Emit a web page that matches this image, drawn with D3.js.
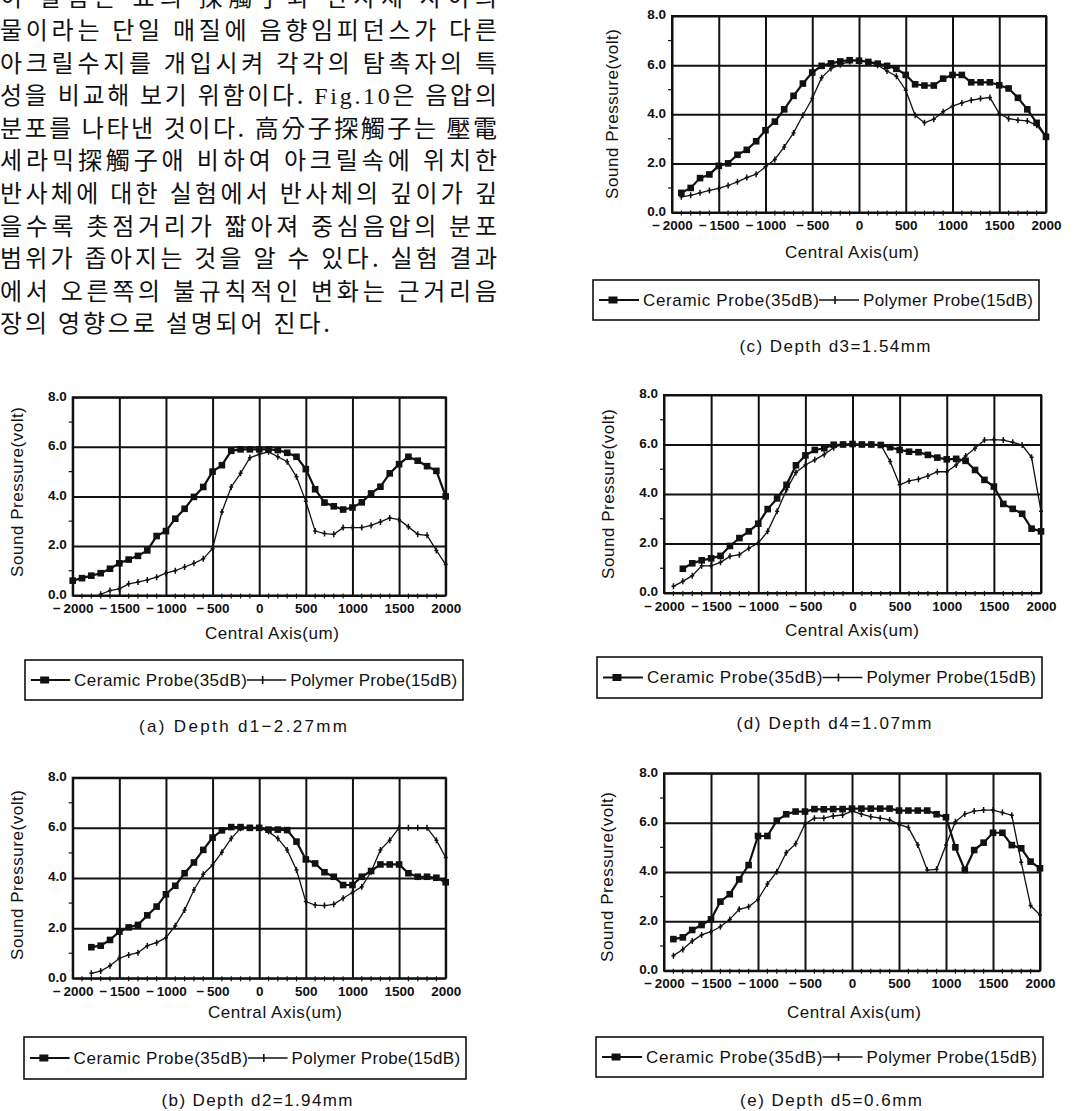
<!DOCTYPE html>
<html>
<head>
<meta charset="utf-8">
<script src="https://cdn.jsdelivr.net/npm/d3@7"></script>
<style>
    body { margin: 0; background: #fff; }
    svg { display: block; }
</style>
</head>
<body>
<div id="page"></div>
<script>
// measuring positions along the central axis (um)
var axisPoints = [-2000, -1900, -1800, -1700, -1600, -1500, -1400, -1300, -1200, -1100,
    -1000, -900, -800, -700, -600, -500, -400, -300, -200, -100,
    0, 100, 200, 300, 400, 500, 600, 700, 800, 900,
    1000, 1100, 1200, 1300, 1400, 1500, 1600, 1700, 1800, 1900, 2000];

var majorX = [-2000, -1500, -1000, -500, 0, 500, 1000, 1500, 2000];
var majorY = [0, 2, 4, 6, 8];
var minorY = [1, 3, 5, 7];

// (a) depth d1 = 2.27mm
var ceramicA = [0.6, 0.7, 0.8, 0.9, 1.08, 1.3, 1.45, 1.6, 1.82, 2.4, 2.6, 3.1, 3.5, 3.98, 4.38, 5.0, 5.26, 5.84, 5.9, 5.9,
    5.9, 5.9, 5.87, 5.76, 5.6, 5.1, 4.29, 3.75, 3.6, 3.47, 3.55, 3.76, 4.12, 4.39, 4.93, 5.3, 5.6, 5.44, 5.22, 5.03, 4.0];
var polymerA = [0.05, 0.2, 0.27, 0.47, 0.54, 0.63, 0.74, 0.9, 1.0, 1.15, 1.3, 1.48, 1.9, 3.37, 4.38, 4.93, 5.56,
    5.7, 5.8, 5.6, 5.4, 4.79, 3.8, 2.6, 2.5, 2.47, 2.74, 2.74, 2.74, 2.83, 2.97, 3.13, 3.06, 2.77, 2.47, 2.43, 1.82, 1.25];

// (b) depth d2 = 1.94mm
var ceramicB = [1.24, 1.3, 1.53, 1.86, 2.03, 2.13, 2.51, 2.86, 3.35, 3.69, 4.19, 4.62, 5.12, 5.61, 5.9, 6.03, 6.03, 6.0,
    6.0, 5.93, 5.93, 5.91, 5.45, 4.74, 4.58, 4.23, 4.05, 3.72, 3.72, 4.05, 4.28, 4.54, 4.54, 4.54, 4.19, 4.05, 4.05, 4.01, 3.83];
var polymerB = [0.2, 0.29, 0.5, 0.8, 0.93, 1.02, 1.3, 1.42, 1.62, 2.1, 2.72, 3.52, 4.15, 4.52, 5.03, 5.58, 5.98, 6.0,
    6.0, 5.85, 5.58, 5.12, 4.32, 3.06, 2.92, 2.9, 2.95, 3.19, 3.42, 3.65, 4.25, 5.12, 5.51, 6.0, 6.0, 6.0, 6.0, 5.51, 4.82];

// (c) depth d3 = 1.54mm
var ceramicC = [0.8, 1.0, 1.4, 1.55, 1.9, 2.0, 2.35, 2.55, 2.9, 3.35, 3.7, 4.2, 4.75, 5.25, 5.7, 5.97, 6.07, 6.15, 6.2,
    6.18, 6.13, 6.06, 5.97, 5.85, 5.6, 5.22, 5.17, 5.17, 5.45, 5.6, 5.6, 5.3, 5.3, 5.3, 5.18, 5.05, 4.67, 4.2, 3.65, 3.08];
var polymerC = [0.64, 0.7, 0.8, 0.9, 0.98, 1.1, 1.25, 1.42, 1.56, 1.86, 2.16, 2.67, 3.24, 3.96, 4.64, 5.49, 5.86, 6.02, 6.15,
    6.2, 6.13, 6.0, 5.76, 5.55, 4.98, 3.96, 3.65, 3.8, 4.1, 4.33, 4.46, 4.57, 4.64, 4.68, 4.03, 3.82, 3.76, 3.73, 3.55, 3.08];

// (d) depth d4 = 1.07mm
var ceramicD = [0.98, 1.2, 1.32, 1.4, 1.5, 1.9, 2.22, 2.49, 2.8, 3.39, 3.82, 4.37, 5.16, 5.56, 5.78, 5.85, 5.99, 6.0,
    6.02, 6.0, 6.0, 5.98, 5.89, 5.78, 5.71, 5.69, 5.58, 5.47, 5.4, 5.42, 5.34, 4.97, 4.57, 4.3, 3.6, 3.4, 3.2, 2.6, 2.49];
var polymerD = [0.27, 0.47, 0.7, 1.1, 1.1, 1.24, 1.48, 1.55, 1.81, 2.02, 2.49, 3.3, 4.17, 4.87, 5.17, 5.38, 5.6, 5.87, 6.0,
    5.98, 6.0, 6.0, 5.98, 5.31, 4.37, 4.53, 4.6, 4.73, 4.9, 4.9, 5.17, 5.54, 5.85, 6.18, 6.2, 6.18, 6.09, 5.98, 5.48, 3.3];

// (e) depth d5 = 0.6mm
var ceramicE = [1.28, 1.35, 1.65, 1.85, 2.08, 2.8, 3.1, 3.7, 4.28, 5.46, 5.46, 6.08, 6.34, 6.45, 6.45, 6.55, 6.54, 6.55, 6.55,
    6.57, 6.57, 6.57, 6.57, 6.57, 6.49, 6.49, 6.49, 6.49, 6.34, 6.22, 5.0, 4.08, 4.89, 5.19, 5.59, 5.59, 5.09, 4.96, 4.42, 4.15];
var polymerE = [0.61, 0.86, 1.2, 1.45, 1.58, 1.78, 2.08, 2.49, 2.59, 2.89, 3.51, 4.01, 4.78, 5.14, 5.95, 6.18, 6.18, 6.27, 6.31,
    6.47, 6.35, 6.24, 6.18, 6.11, 5.93, 5.8, 5.09, 4.08, 4.11, 5.09, 6.04, 6.35, 6.47, 6.51, 6.51, 6.41, 6.3, 4.4, 2.64, 2.26];

var seriesNames = ["Ceramic Probe(35dB)", "Polymer Probe(15dB)"];
var xTitle = "Central Axis(um)";
var yTitle = "Sound Pressure(volt)";

var bodyLines = [
    "이 실험은 표의 探觸子와 반사체 사이의",
    "물이라는 단일 매질에 음향임피던스가 다른",
    "아크릴수지를 개입시켜 각각의 탐촉자의 특",
    "성을 비교해 보기 위함이다. Fig.10은 음압의",
    "분포를 나타낸 것이다. 高分子探觸子는 壓電",
    "세라믹探觸子애 비하여 아크릴속에 위치한",
    "반사체에 대한 실험에서 반사체의 깊이가 깊",
    "을수록 촛점거리가 짧아져 중심음압의 분포",
    "범위가 좁아지는 것을 알 수 있다. 실험 결과",
    "에서 오른쪽의 불규칙적인 변화는 근거리음",
    "장의 영향으로 설명되어 진다."
];

// panel layout (plot box, titles, legend box, caption)
var panels = [
    { caption: "(a) Depth d1\u22122.27mm", capW: 208, cap: [243, 726],
      plot: [72.7, 445.7, 397.3, 595.5], yt: [17, 492], xt: [272, 633], leg: [25, 660, 438, 40],
      ceramic: ceramicA, cStart: -2000, polymer: polymerA, pStart: -1700 },
    { caption: "(b) Depth d2=1.94mm", capW: 191, cap: [257, 1100],
      plot: [72.7, 445.7, 777.7, 978.3], yt: [17, 875], xt: [275, 1012], leg: [24, 1037, 442, 42],
      ceramic: ceramicB, cStart: -1800, polymer: polymerB, pStart: -1800 },
    { caption: "(c) Depth d3=1.54mm", capW: 191, cap: [835, 346],
      plot: [672, 1046, 16, 212.5], yt: [612, 114], xt: [852, 252], leg: [593, 280, 446, 40],
      ceramic: ceramicC, cStart: -1900, polymer: polymerC, pStart: -1900 },
    { caption: "(d) Depth d4=1.07mm", capW: 195, cap: [834, 723],
      plot: [664, 1041, 395, 593], yt: [608, 494], xt: [852, 630], leg: [597, 657, 445, 41],
      ceramic: ceramicD, cStart: -1800, polymer: polymerD, pStart: -1900 },
    { caption: "(e) Depth d5=0.6mm", capW: 182, cap: [831, 1100],
      plot: [664, 1040, 773.3, 970.7], yt: [607, 877], xt: [854, 1012], leg: [596, 1037, 447, 40],
      ceramic: ceramicE, cStart: -1900, polymer: polymerE, pStart: -1900 }
];

var ink = "#111";
var labelFont = "'Liberation Sans', Arial, sans-serif";

var svg = d3.select("#page").append("svg")
    .attr("width", 1074)
    .attr("height", 1111);

// body text (left column)
var body = svg.append("g")
    .attr("font-family", "'Noto Sans CJK KR', sans-serif")
    .attr("font-size", 24)
    .attr("fill", ink);

bodyLines.forEach(function(line, i) {
    var last = i === bodyLines.length - 1;
    var t = body.append("text")
        .attr("x", 0)
        .attr("y", 6.4 + 32.6 * i)
        .attr("textLength", last ? 330 : 497)
        .attr("lengthAdjust", "spacing");
    var parts = line.split("Fig.10");
    if (parts.length > 1) {
        t.append("tspan").text(parts[0]);
        t.append("tspan").attr("font-family", "'Liberation Serif', serif").text("Fig.10");
        t.append("tspan").text(parts[1]);
    } else {
        t.text(line);
    }
});

function toPoints(values, start) {
    var k = axisPoints.indexOf(start);
    return values.map(function(v, i) {
        return [axisPoints[k + i], v];
    });
}

function fmtX(d) {
    return d < 0 ? "\u2212\u2009" + Math.abs(d) : String(d);
}

panels.forEach(function(p) {
    var x0 = p.plot[0], x1 = p.plot[1], y0 = p.plot[2], y1 = p.plot[3];

    var x = d3.scaleLinear().domain([-2000, 2000]).range([x0, x1]);
    var y = d3.scaleLinear().domain([0, 8]).range([y1, y0]);

    var g = svg.append("g");

    // vertical grid + x tick labels
    var gx = g.append("g")
        .attr("transform", "translate(0," + y1 + ")")
        .call(d3.axisBottom(x)
            .tickValues(majorX)
            .tickSize(-(y1 - y0))
            .tickPadding(8)
            .tickFormat(fmtX));
    gx.select(".domain").remove();
    gx.selectAll("line").attr("stroke", ink).attr("stroke-width", 2);
    gx.selectAll("text")
        .attr("fill", ink)
        .attr("font-family", labelFont)
        .attr("font-weight", "bold")
        .attr("font-size", 13.5);

    // horizontal grid + y tick labels
    var gy = g.append("g")
        .attr("transform", "translate(" + x0 + ",0)")
        .call(d3.axisLeft(y)
            .tickValues(majorY)
            .tickSize(-(x1 - x0))
            .tickPadding(6)
            .tickFormat(d3.format(".1f")));
    gy.select(".domain").remove();
    gy.selectAll("line").attr("stroke", ink).attr("stroke-width", 2);
    gy.selectAll("text")
        .attr("fill", ink)
        .attr("dy", "0.22em")
        .attr("font-family", labelFont)
        .attr("font-weight", "bold")
        .attr("font-size", 13.5);

    // minor ticks
    g.selectAll(".mx")
        .data(axisPoints.filter(function(d) { return d % 500 !== 0; }))
        .enter().append("line")
        .attr("x1", function(d) { return x(d); })
        .attr("x2", function(d) { return x(d); })
        .attr("y1", y1 - 2)
        .attr("y2", y1 + 3)
        .attr("stroke", ink)
        .attr("stroke-width", 1.2);

    g.selectAll(".my")
        .data(minorY)
        .enter().append("line")
        .attr("x1", x0 - 4)
        .attr("x2", x0)
        .attr("y1", function(d) { return y(d); })
        .attr("y2", function(d) { return y(d); })
        .attr("stroke", ink)
        .attr("stroke-width", 1.2);

    g.append("rect")
        .attr("x", x0).attr("y", y0)
        .attr("width", x1 - x0).attr("height", y1 - y0)
        .attr("fill", "none")
        .attr("stroke", ink)
        .attr("stroke-width", 2);

    var line = d3.line()
        .x(function(d) { return x(d[0]); })
        .y(function(d) { return y(d[1]); });

    var cPts = toPoints(p.ceramic, p.cStart);
    var pPts = toPoints(p.polymer, p.pStart);

    // polymer probe: thin line, small cross markers
    g.append("path")
        .datum(pPts)
        .attr("d", line)
        .attr("fill", "none")
        .attr("stroke", ink)
        .attr("stroke-width", 1.3);

    g.selectAll(".pm")
        .data(pPts)
        .enter().append("path")
        .attr("d", function(d) {
            var cx = x(d[0]), cy = y(d[1]);
            return "M" + cx + "," + (cy - 3) + "V" + (cy + 3) + "M" + (cx - 2) + "," + cy + "H" + (cx + 2);
        })
        .attr("stroke", ink)
        .attr("stroke-width", 1.5);

    // ceramic probe: heavier line, filled squares
    g.append("path")
        .datum(cPts)
        .attr("d", line)
        .attr("fill", "none")
        .attr("stroke", ink)
        .attr("stroke-width", 2.2);

    g.selectAll(".cm")
        .data(cPts)
        .enter().append("rect")
        .attr("x", function(d) { return x(d[0]) - 3.3; })
        .attr("y", function(d) { return y(d[1]) - 3.3; })
        .attr("width", 6.6)
        .attr("height", 6.6)
        .attr("fill", ink);

    // titles
    g.append("text")
        .attr("transform", "translate(" + p.yt[0] + "," + p.yt[1] + ") rotate(-90)")
        .attr("text-anchor", "middle")
        .attr("dy", "0.35em")
        .attr("font-family", labelFont)
        .attr("font-size", 17)
        .attr("textLength", 170)
        .attr("lengthAdjust", "spacing")
        .attr("fill", ink)
        .text(yTitle);

    g.append("text")
        .attr("x", p.xt[0] - 67)
        .attr("y", p.xt[1])
        .attr("dy", "0.35em")
        .attr("font-family", labelFont)
        .attr("font-size", 17)
        .attr("textLength", 134)
        .attr("lengthAdjust", "spacing")
        .attr("fill", ink)
        .text(xTitle);

    // legend
    var bx = p.leg[0], by = p.leg[1], bw = p.leg[2], bh = p.leg[3];
    var s = bw / 446, cy = by + bh / 2;
    var lg = g.append("g");
    lg.append("rect")
        .attr("x", bx).attr("y", by)
        .attr("width", bw).attr("height", bh)
        .attr("fill", "none")
        .attr("stroke", ink)
        .attr("stroke-width", 1.6);

    lg.append("line")
        .attr("x1", bx + 6 * s).attr("x2", bx + 46 * s)
        .attr("y1", cy).attr("y2", cy)
        .attr("stroke", ink).attr("stroke-width", 2.2);
    lg.append("rect")
        .attr("x", bx + 20 * s - 4.5).attr("y", cy - 3.5)
        .attr("width", 9).attr("height", 7)
        .attr("fill", ink);
    lg.append("text")
        .attr("x", bx + 50 * s).attr("y", cy)
        .attr("dy", "0.35em")
        .attr("font-family", labelFont)
        .attr("font-size", 17)
        .attr("textLength", 176 * s)
        .attr("lengthAdjust", "spacing")
        .attr("fill", ink)
        .text(seriesNames[0]);

    lg.append("line")
        .attr("x1", bx + 226 * s).attr("x2", bx + 266 * s)
        .attr("y1", cy).attr("y2", cy)
        .attr("stroke", ink).attr("stroke-width", 1.4);
    lg.append("path")
        .attr("d", "M" + (bx + 242 * s) + "," + (cy - 4) + "V" + (cy + 4))
        .attr("stroke", ink).attr("stroke-width", 1.6);
    lg.append("text")
        .attr("x", bx + 270 * s).attr("y", cy)
        .attr("dy", "0.35em")
        .attr("font-family", labelFont)
        .attr("font-size", 17)
        .attr("textLength", 170 * s)
        .attr("lengthAdjust", "spacing")
        .attr("fill", ink)
        .text(seriesNames[1]);

    // caption
    g.append("text")
        .attr("x", p.cap[0] - p.capW / 2)
        .attr("y", p.cap[1])
        .attr("dy", "0.35em")
        .attr("font-family", labelFont)
        .attr("font-size", 17)
        .attr("textLength", p.capW)
        .attr("lengthAdjust", "spacing")
        .attr("fill", ink)
        .text(p.caption);
});
</script>
</body>
</html>
